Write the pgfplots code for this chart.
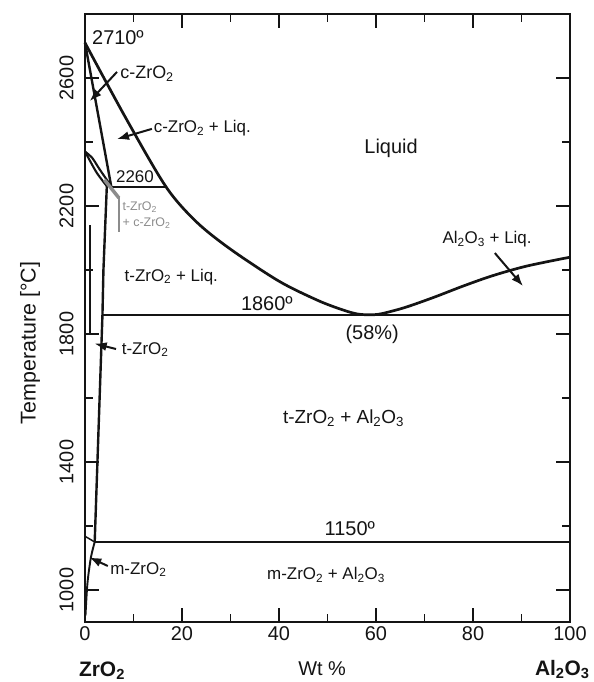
\documentclass[border=0pt]{standalone}
\usepackage{fontspec}
\setmainfont{Liberation Sans}
\usepackage{pgfplots}
\pgfplotsset{compat=1.18}
\usetikzlibrary{arrows.meta}
\definecolor{ink}{HTML}{141414}
\definecolor{greyann}{HTML}{8C8C8C}
\newcommand{\fs}[1]{\fontsize{#1}{#1}\selectfont}
\begin{document}
\begin{tikzpicture}
\path[use as bounding box] (-85bp,-60bp) rectangle (509bp,622bp);
\begin{axis}[
  scale only axis, width=485bp, height=608bp,
  xmin=0, xmax=100, ymin=900, ymax=2800,
  xtick={0,20,...,100}, minor xtick={10,30,...,90},
  ytick={1000,1400,...,2600}, minor ytick={1200,1600,...,2800},
  tick align=inside, major tick length=14bp, minor tick length=8bp,
  every tick/.append style={ink, line width=1.6bp},
  axis line style={ink, line width=2.2bp},
  clip=false,
  font=\fs{20},
  /pgf/number format/assume math mode=true,
  /pgf/number format/1000 sep={},
  ticklabel style={text=ink},
  yticklabel style={rotate=90, anchor=south},
  yticklabel shift=8bp,
  xticklabel shift=1bp,
]
% liquidus
\addplot[ink, line width=2.7bp, smooth, tension=0.5] coordinates {
 (0,2710) (8.3,2478) (16.7,2260) (23,2150) (30,2065) (40,1965)
 (48,1905) (53,1876) (56,1863) (58.5,1860) (61,1863) (66,1883) (72,1915) (78,1950) (84,1982)
 (91,2012) (100,2040)};
% c-ZrO2 solidus
\addplot[ink, line width=2.4bp] coordinates {(0,2710) (5.4,2262)};
% lens t + c
\addplot[ink, line width=2.1bp, smooth] coordinates {(0,2370) (1.5,2350) (3,2315) (5.4,2262)};
\addplot[ink, line width=2.1bp, smooth] coordinates {(0,2370) (1,2342) (2.5,2302) (4.5,2262)};
% 2260 line
\addplot[ink, line width=2.4bp] coordinates {(5.4,2260) (16.7,2260)};
% t-ZrO2 solvus
\addplot[ink, line width=2.4bp] coordinates {(4.5,2262) (3.8,2000) (3.6,1860) (2.0,1150)};
% inner line near axis
\addplot[ink, line width=1.5bp] coordinates {(1.0,2140) (1.0,1800)};
% m-ZrO2 solvus
\addplot[ink, line width=1.9bp, smooth] coordinates {(2.0,1150) (1.2,1100) (0.5,1020) (0.1,920)};
\addplot[ink, line width=1.5bp] coordinates {(0,1168) (2.0,1150)};
% eutectic and eutectoid lines
\addplot[ink, line width=2.4bp] coordinates {(3.6,1860) (100,1860)};
\addplot[ink, line width=2.4bp] coordinates {(2.0,1150) (100,1150)};

% grey annotation
\draw[greyann, line width=3.5bp] (axis cs:7.0,2225) -- (axis cs:4.0,2282);
\draw[greyann, line width=2.2bp] (axis cs:7.0,2228) -- (axis cs:7.0,2120);
\node[greyann, font=\fontsize{12.5}{16}\selectfont, anchor=west, align=left, inner sep=1bp]
  at (axis cs:7.5,2172) {t-ZrO\textsubscript{2}\\+ c-ZrO\textsubscript{2}};

% labels
\node[ink, font=\fs{20}] at (axis cs:6.8,2725) {2710º};
\node[ink, font=\fs{18}] at (axis cs:12.8,2614) {c-ZrO\textsubscript{2}};
\draw[ink, line width=2bp, -{Latex[length=12bp,width=9bp]}] (axis cs:6.6,2619) -- (axis cs:1.0,2528);
\node[ink, font=\fs{17}] at (axis cs:24.2,2442) {c-ZrO\textsubscript{2} + Liq.};
\draw[ink, line width=2bp, -{Latex[length=12bp,width=9bp]}] (axis cs:13.8,2441) -- (axis cs:6.6,2409);
\node[ink, font=\fs{17}] at (axis cs:10.3,2292) {2260};
\node[ink, font=\fs{20}] at (axis cs:63.1,2379) {Liquid};
\node[ink, font=\fs{17}] at (axis cs:82.9,2095) {Al\textsubscript{2}O\textsubscript{3} + Liq.};
\draw[ink, line width=2bp, -{Latex[length=12bp,width=9bp]}] (axis cs:84.5,2053) -- (axis cs:90.3,1950);
\node[ink, font=\fs{17}] at (axis cs:17.8,1979) {t-ZrO\textsubscript{2} + Liq.};
\node[ink, font=\fs{20}] at (axis cs:37.5,1894) {1860º};
\node[ink, font=\fs{20}] at (axis cs:59.2,1798) {(58\%)};
\node[ink, font=\fs{17}] at (axis cs:12.4,1751) {t-ZrO\textsubscript{2}};
\draw[ink, line width=2bp, -{Latex[length=12bp,width=9bp]}] (axis cs:6.4,1753) -- (axis cs:2.0,1770);
\node[ink, font=\fs{19}] at (axis cs:53.3,1536) {t-ZrO\textsubscript{2} + Al\textsubscript{2}O\textsubscript{3}};
\node[ink, font=\fs{20}] at (axis cs:54.6,1191) {1150º};
\node[ink, font=\fs{17}] at (axis cs:49.7,1048) {m-ZrO\textsubscript{2} + Al\textsubscript{2}O\textsubscript{3}};
\node[ink, font=\fs{17}] at (axis cs:11.0,1064) {m-ZrO\textsubscript{2}};
\draw[ink, line width=2bp, -{Latex[length=12bp,width=9bp]}] (axis cs:4.7,1075) -- (axis cs:0.9,1102);

% axis titles
\node[ink, font=\fs{21.5}, rotate=90] at (axis cs:-11.3,1772) {Temperature [°C]};
\node[ink, font=\fs{20}] at (axis cs:48.9,753) {Wt \%};
\node[ink, font=\bfseries\fs{21}] at (axis cs:3.5,749) {ZrO\textsubscript{2}};
\node[ink, font=\bfseries\fs{21}] at (axis cs:98.4,751) {Al\textsubscript{2}O\textsubscript{3}};
\end{axis}
\end{tikzpicture}
\end{document}
